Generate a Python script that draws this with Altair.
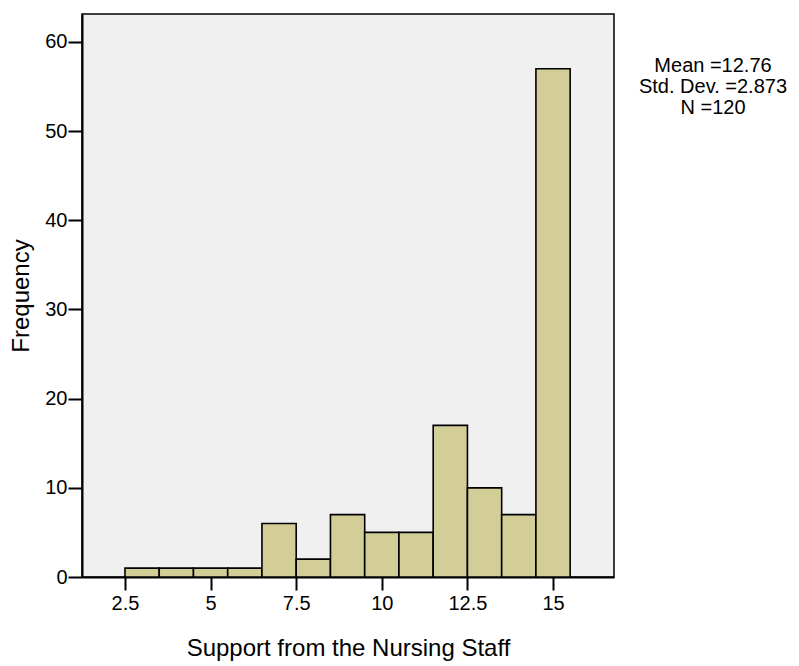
import altair as alt
import pandas as pd

# Data
bin_centers = [3, 4, 5, 6, 7, 8, 9, 10, 11, 12, 13, 14, 15]
frequencies = [1, 1, 1, 1, 6, 2, 7, 5, 5, 17, 10, 7, 57]
x_ticks = [2.5, 5, 7.5, 10, 12.5, 15]
y_ticks = [0, 10, 20, 30, 40, 50, 60]
stats_lines = ["Mean =12.76", "Std. Dev. =2.873", "N =120"]

df = pd.DataFrame({
    "start": [c - 0.5 for c in bin_centers],
    "end": [c + 0.5 for c in bin_centers],
    "freq": frequencies,
})

FONT = "Liberation Sans"
W, H = 532, 563

xscale = alt.Scale(domain=[1.245, 16.78], nice=False, zero=False)
yscale = alt.Scale(domain=[0, 63.14], nice=False)

bars = alt.Chart(df).mark_rect(
    fill="#D3CE97", stroke="black", strokeWidth=1.6
).encode(
    x=alt.X("start:Q", scale=xscale,
            axis=alt.Axis(values=x_ticks, format=".1~f",
                          title="Support from the Nursing Staff",
                          grid=False, tickSize=13, tickWidth=2, tickColor="black",
                          domainColor="black", domainWidth=2,
                          labelFont=FONT, labelFontSize=20, labelColor="black",
                          labelPadding=3,
                          titleFont=FONT, titleFontSize=24, titleFontWeight="normal",
                          titleColor="black", titlePadding=23)),
    x2="end:Q",
    y=alt.Y("freq:Q", scale=yscale,
            axis=alt.Axis(values=y_ticks, title="Frequency", grid=False,
                          tickSize=14, tickWidth=2, tickColor="black",
                          domainColor="black", domainWidth=2,
                          labelFont=FONT, labelFontSize=20, labelColor="black",
                          labelPadding=1,
                          titleFont=FONT, titleFontSize=24, titleFontWeight="normal",
                          titleColor="black", titlePadding=11)),
    y2=alt.Y2(datum=0),
)

stats_df = pd.DataFrame({"line": stats_lines, "i": list(range(len(stats_lines)))})
stats = alt.Chart(stats_df).mark_text(
    font=FONT, fontSize=20, color="black", align="center", baseline="alphabetic"
).transform_calculate(
    ypix="58 + datum.i * 21"
).encode(
    x=alt.value(631),
    y=alt.Y("ypix:Q", scale=None),
    text="line:N",
)

chart = alt.layer(bars, stats).properties(
    width=W, height=H,
    autosize=alt.AutoSizeParams(type="none"),
    padding={"left": 82, "top": 14, "right": 185, "bottom": 89},
    background="white",
).configure_view(
    fill="#F0F0F0", stroke="black", strokeWidth=1.5
)

chart.save("out.html", embed_options={"renderer": "svg", "actions": False})
